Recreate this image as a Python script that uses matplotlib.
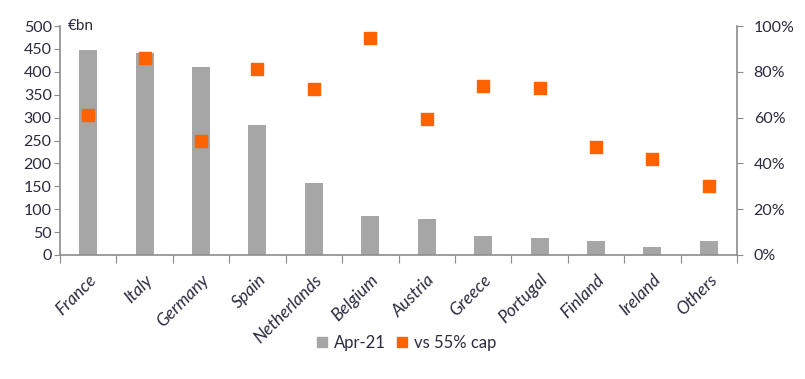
import matplotlib.pyplot as plt
from matplotlib.ticker import PercentFormatter
from matplotlib.lines import Line2D
import numpy as np

plt.rcParams["font.family"] = ["Lato", "DejaVu Sans"]
plt.rcParams["font.size"] = 11.5

countries = ["France", "Italy", "Germany", "Spain", "Netherlands", "Belgium",
             "Austria", "Greece", "Portugal", "Finland", "Ireland", "Others"]
holdings = [448, 441, 411, 283, 158, 86, 78, 41, 38, 30, 18, 30]          # €bn, Apr-21
vs_cap = [61.1, 85.9, 49.8, 81.2, 72.4, 94.9, 59.4, 73.8, 72.9, 47.3, 41.8, 30.3]  # % of 55% cap

grey = "#a6a6a6"
orange = "#ff6200"
text_c = "#2b2b3f"
spine_c = "#8c8c8c"

fig = plt.figure(figsize=(8.05, 3.79), dpi=100)
ax = fig.add_axes([60 / 805, 124 / 379, 677 / 805, 229 / 379])
ax2 = ax.twinx()

x = np.arange(len(countries))
ax.bar(x, holdings, width=0.32, color=grey, zorder=2)
ax2.scatter(x, vs_cap, marker="s", s=80, color=orange, zorder=3)

ax.set_xlim(-0.5, len(countries) - 0.5)
ax.set_ylim(0, 500)
ax.set_yticks(np.arange(0, 501, 50))
ax2.set_ylim(0, 100)
ax2.set_yticks(np.arange(0, 101, 20))
ax2.yaxis.set_major_formatter(PercentFormatter(decimals=0))

# category boundaries get the tick marks, names sit at the bar centres
ax.set_xticks(np.arange(-0.5, len(countries), 1.0))
ax.set_xticklabels([])
ax.set_xticks(x, minor=True)
ax.set_xticklabels(countries, minor=True, rotation=45, ha="right",
                   rotation_mode="anchor", color=text_c, style="italic",
                   fontsize=12.5)
ax.tick_params(axis="x", which="minor", length=0, pad=12)
ax.tick_params(axis="x", which="major", length=6, color=spine_c, direction="out")

for a in (ax, ax2):
    for s in a.spines.values():
        s.set_visible(False)
ax.spines["left"].set_visible(True)
ax.spines["bottom"].set_visible(True)
ax2.spines["right"].set_visible(True)
for s in (ax.spines["left"], ax.spines["bottom"], ax2.spines["right"]):
    s.set_color(spine_c)
    s.set_linewidth(1.2)

ax.tick_params(axis="y", colors=text_c, color=spine_c, length=4, pad=2)
ax2.tick_params(axis="y", colors=text_c, color=spine_c, length=4, pad=8)
ax2.tick_params(axis="x", length=0)

ax.text(0.012, 1.0, "€bn", transform=ax.transAxes, ha="left", va="center",
        color=text_c, fontsize=11)

handles = [
    Line2D([], [], marker="s", linestyle="", color=grey, markersize=7),
    Line2D([], [], marker="s", linestyle="", color=orange, markersize=7),
]
fig.legend(handles, ["Apr-21", "vs 55% cap"], loc="center", ncol=2,
           bbox_to_anchor=(406 / 805, 1 - 343 / 379), frameon=False,
           handlelength=0.8, handletextpad=0.3, columnspacing=0.6,
           labelcolor=text_c, fontsize=12)

fig.savefig("out.png", dpi=100)
